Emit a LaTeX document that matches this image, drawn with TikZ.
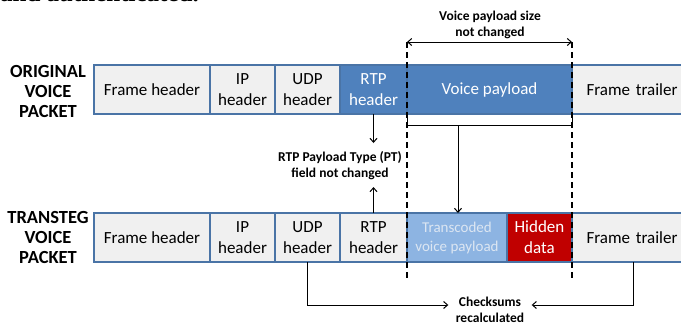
\documentclass[tikz,border=0pt]{standalone}
\usepackage{fontspec}
\setmainfont{Carlito}
\newfontfamily\captionfont{Liberation Serif}
\usetikzlibrary{positioning,arrows.meta}
\definecolor{fieldgray}{HTML}{F0F0F0}
\definecolor{edgeblue}{HTML}{4A74A6}
\definecolor{darkfield}{HTML}{4F81BD}
\definecolor{lightfield}{HTML}{8DB4E2}
\definecolor{lighttext}{HTML}{DCE6F2}
\definecolor{hiddenred}{HTML}{C00000}
\tikzset{
  field/.style={draw=edgeblue, line width=1.5pt, fill=fieldgray, outer sep=0pt,
    minimum height=49pt, inner sep=0pt, align=center,
    font=\fontsize{17}{21}\selectfont},
  dark/.style={field, fill=darkfield, text=white},
  packetlabel/.style={font=\fontsize{18.5}{20}\selectfont\bfseries, align=center},
  note/.style={font=\fontsize{13.5}{16}\selectfont\bfseries, align=center},
  guide/.style={line width=1.8pt, dash pattern=on 6pt off 4pt},
  link/.style={line width=1pt, -{Straight Barb[length=4pt,width=7pt]}}
}
\begin{document}
\begin{tikzpicture}[x=1pt,y=-1pt]
  \useasboundingbox (0,0) rectangle (681,322);
  % caption line of the page, cut at the top
  \node[anchor=base west, inner sep=0pt, font=\captionfont\fontsize{25}{27}\selectfont\bfseries] (cap) at (0,1.5) {and authenticated.};

  % original packet
  \node[field, anchor=north west, minimum width=116pt] (fh1) at (94,65) {Frame header};
  \node[field, right=0pt of fh1, minimum width=65pt] (ip1) {IP\\header};
  \node[field, right=0pt of ip1, minimum width=65pt] (udp1) {UDP\\header};
  \node[dark, right=0pt of udp1, minimum width=67pt] (rtp1) {RTP\\header};
  \node[dark, right=0pt of rtp1, minimum width=165pt] (vp1) {Voice payload};
  \node[field, right=0pt of vp1, minimum width=120pt, text width=109pt] (ft1) {Frame trailer};
  \node[packetlabel] (orig) at (48,91) {ORIGINAL\\VOICE\\PACKET};

  % transteg packet
  \node[field, anchor=north west, minimum width=116pt] (fh2) at (94,213) {Frame header};
  \node[field, right=0pt of fh2, minimum width=65pt] (ip2) {IP\\header};
  \node[field, right=0pt of ip2, minimum width=65pt] (udp2) {UDP\\header};
  \node[field, right=0pt of udp2, minimum width=67pt] (rtp2) {RTP\\header};
  \node[field, fill=lightfield, text=lighttext, right=0pt of rtp2, minimum width=100pt,
    font=\fontsize{15}{19}\selectfont] (tc2) {Transcoded\\voice payload};
  \node[field, fill=hiddenred, text=white, right=0pt of tc2, minimum width=65pt] (hd2) {Hidden\\data};
  \node[field, right=0pt of hd2, minimum width=120pt, text width=109pt] (ft2) {Frame trailer};
  \node[packetlabel] (trans) at (48,237) {TRANSTEG\\VOICE\\PACKET};

  % payload size
  \coordinate (dl) at (407,42);
  \coordinate (dr) at (572,42);
  \draw[guide] (dl) -- (407,278);
  \draw[guide] (dr) -- (572,278);
  \draw[line width=1pt, {Straight Barb[length=4pt,width=7pt]}-{Straight Barb[length=4pt,width=7pt]}] (dl) -- (dr);
  \node[note] (size) at (490,25) {Voice payload size\\not changed};

  % bracket to transcoded payload
  \coordinate (bl) at (407,118);
  \coordinate (bm) at (458,125);
  \draw[line width=1pt] (bl) -- ++(0,7) -- ++(165,0) -- ++(0,-7);
  \draw[link] (bm) -- (bm |- tc2.north);

  % payload type
  \node[note] (pt) at (340,165.5) {RTP Payload Type (PT)\\field not changed};
  \draw[link] (rtp1.south) -- ++(0,29);
  \draw[link] (rtp2.north) -- ++(0,-26);

  % checksums
  \node[note] (sum) at (490,309.5) {Checksums\\recalculated};
  \coordinate (ftc) at (633,262);
  \draw[link] (udp2.south) |- ([xshift=-4pt]sum.west |- 0,305);
  \draw[link] (ftc) |- ([xshift=4pt]sum.east |- 0,305);
\end{tikzpicture}
\end{document}
